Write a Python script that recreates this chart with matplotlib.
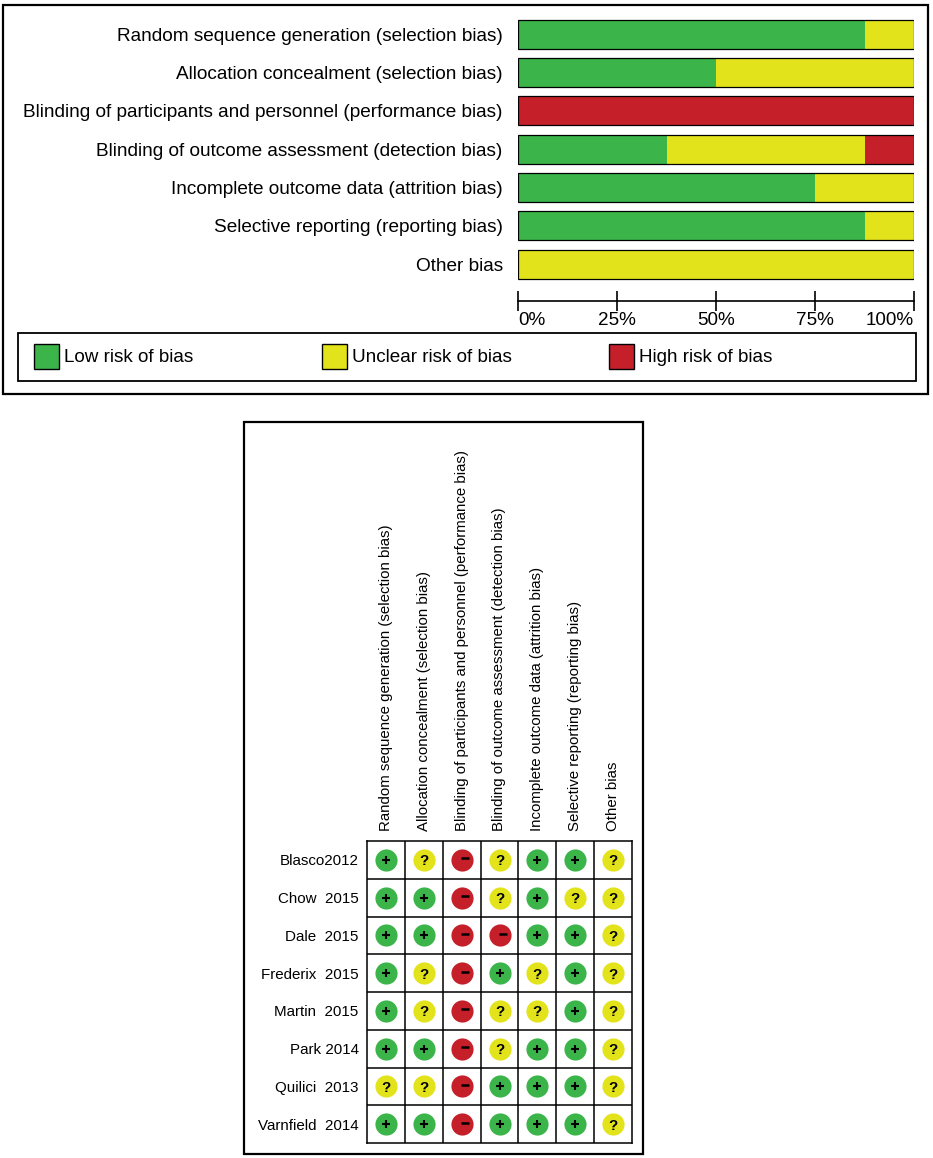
import matplotlib
matplotlib.use('Agg')
from matplotlib import pyplot as plt
from matplotlib.patches import Rectangle

plt.rcParams['font.family'] = ['Liberation Sans', 'DejaVu Sans']

# bias domains (same order in both panels)
domains = ['Random sequence generation (selection bias)',
           'Allocation concealment (selection bias)',
           'Blinding of participants and personnel (performance bias)',
           'Blinding of outcome assessment (detection bias)',
           'Incomplete outcome data (attrition bias)',
           'Selective reporting (reporting bias)',
           'Other bias']

# summary percentages
low_pct = [87.5, 50, 0, 37.5, 75, 87.5, 0]
unclear_pct = [12.5, 50, 0, 50, 25, 12.5, 100]
high_pct = [0, 0, 100, 12.5, 0, 0, 0]

# per study judgements: + low, ? unclear, - high
studies = ['Blasco2012', 'Chow  2015', 'Dale  2015', 'Frederix  2015',
           'Martin  2015', 'Park 2014', 'Quilici  2013', 'Varnfield  2014']
judgements = [['+', '?', '-', '?', '+', '+', '?'],
              ['+', '+', '-', '?', '+', '?', '?'],
              ['+', '+', '-', '-', '+', '+', '?'],
              ['+', '?', '-', '+', '?', '+', '?'],
              ['+', '?', '-', '?', '?', '+', '?'],
              ['+', '+', '-', '?', '+', '+', '?'],
              ['?', '?', '-', '+', '+', '+', '?'],
              ['+', '+', '-', '+', '+', '+', '?']]

legend_labels = ['Low risk of bias', 'Unclear risk of bias', 'High risk of bias']
pct_ticks = [0, 25, 50, 75, 100]

green = '#3bb54a'
yellow = '#e3e31c'
red = '#c5202a'
colors = {'+': green, '?': yellow, '-': red}

W, H = 933, 1158
fig = plt.figure(figsize=(W / 100, H / 100), dpi=100)


def px_axes(x0, y0, x1, y1, **kw):
    # axes placed by pixel corners (top-left origin)
    return fig.add_axes([x0 / W, 1 - y1 / H, (x1 - x0) / W, (y1 - y0) / H], **kw)


# background frame for the boxes and legend
bg = px_axes(0, 0, W, H, zorder=0)
bg.set_xlim(0, W)
bg.set_ylim(H, 0)
bg.axis('off')
bg.add_patch(Rectangle((3, 5), 925, 389, fill=False, ec='black', lw=1.6))
bg.add_patch(Rectangle((18, 333), 898, 48, fill=False, ec='black', lw=1.3))
bg.add_patch(Rectangle((244, 422), 399, 732, fill=False, ec='black', lw=1.6))

leg_x = [34, 322, 609]
for x, lab, c in zip(leg_x, legend_labels, [green, yellow, red]):
    bg.add_patch(Rectangle((x, 344), 25, 25, fc=c, ec='black', lw=1.0))
    bg.text(x + 30, 357, lab, fontsize=13.6, va='center', ha='left')

# ---- top panel: summary bars ----
ax = px_axes(518, 15, 914, 283.3)
rows = range(len(domains))
ax.barh(rows, low_pct, height=0.75, color=green)
ax.barh(rows, unclear_pct, left=low_pct, height=0.75, color=yellow)
left_high = [a + b for a, b in zip(low_pct, unclear_pct)]
ax.barh(rows, high_pct, left=left_high, height=0.75, color=red)
ax.barh(rows, [100] * len(domains), height=0.75, fill=False, edgecolor='black', linewidth=0.9)
ax.set_xlim(0, 100)
ax.set_ylim(len(domains) - 0.5, -0.5)
ax.set_yticks(list(rows))
ax.set_yticklabels(domains, fontsize=13.7)
ax.tick_params(axis='y', length=0, pad=11)
ax.set_xticks([])
for s in ax.spines.values():
    s.set_visible(False)

# percentage axis
axx = px_axes(518, 300, 914, 301)
axx.set_xlim(0, 100)
axx.set_yticks([])
for name in ['top', 'left', 'right']:
    axx.spines[name].set_visible(False)
axx.spines['bottom'].set_linewidth(1.2)
axx.set_xticks(pct_ticks)
axx.set_xticklabels([f'{t}%' for t in pct_ticks], fontsize=13.6)
axx.tick_params(axis='x', direction='inout', length=14, width=1.2, pad=1)
tl = axx.get_xticklabels()
tl[0].set_ha('left')
tl[-1].set_ha('right')

# ---- bottom panel: traffic light grid ----
axg = px_axes(367, 841, 632, 1143)
n_r, n_c = len(studies), len(domains)
axg.set_xlim(0, n_c)
axg.set_ylim(n_r, 0)
for i in range(1, n_c):
    axg.axvline(i, color='black', lw=1.1)
for j in range(1, n_r):
    axg.axhline(j, color='black', lw=1.1)
for s in axg.spines.values():
    s.set_linewidth(1.1)

for r, row in enumerate(judgements):
    for c, val in enumerate(row):
        axg.scatter(c + 0.5, r + 0.5, s=255, color=colors[val], zorder=3, linewidths=0)
        if val == '-':
            axg.scatter(c + 0.6, r + 0.46, marker='_', s=40, color='black', linewidths=1.8, zorder=4)
        elif val == '+':
            axg.scatter(c + 0.5, r + 0.5, marker='+', s=38, color='black', linewidths=1.5, zorder=4)
        else:
            axg.text(c + 0.5, r + 0.5, '?', ha='center', va='center_baseline', fontsize=11,
                     fontweight='bold', zorder=4)

axg.set_yticks([r + 0.5 for r in range(n_r)])
axg.set_yticklabels(studies, fontsize=10.9)
axg.tick_params(axis='y', length=0, pad=6)
axg.xaxis.tick_top()
axg.set_xticks([c + 0.5 for c in range(n_c)])
axg.set_xticklabels(domains, rotation=90, fontsize=10.8)
axg.tick_params(axis='x', length=0, pad=7)

plt.savefig('out.png', dpi=100)
